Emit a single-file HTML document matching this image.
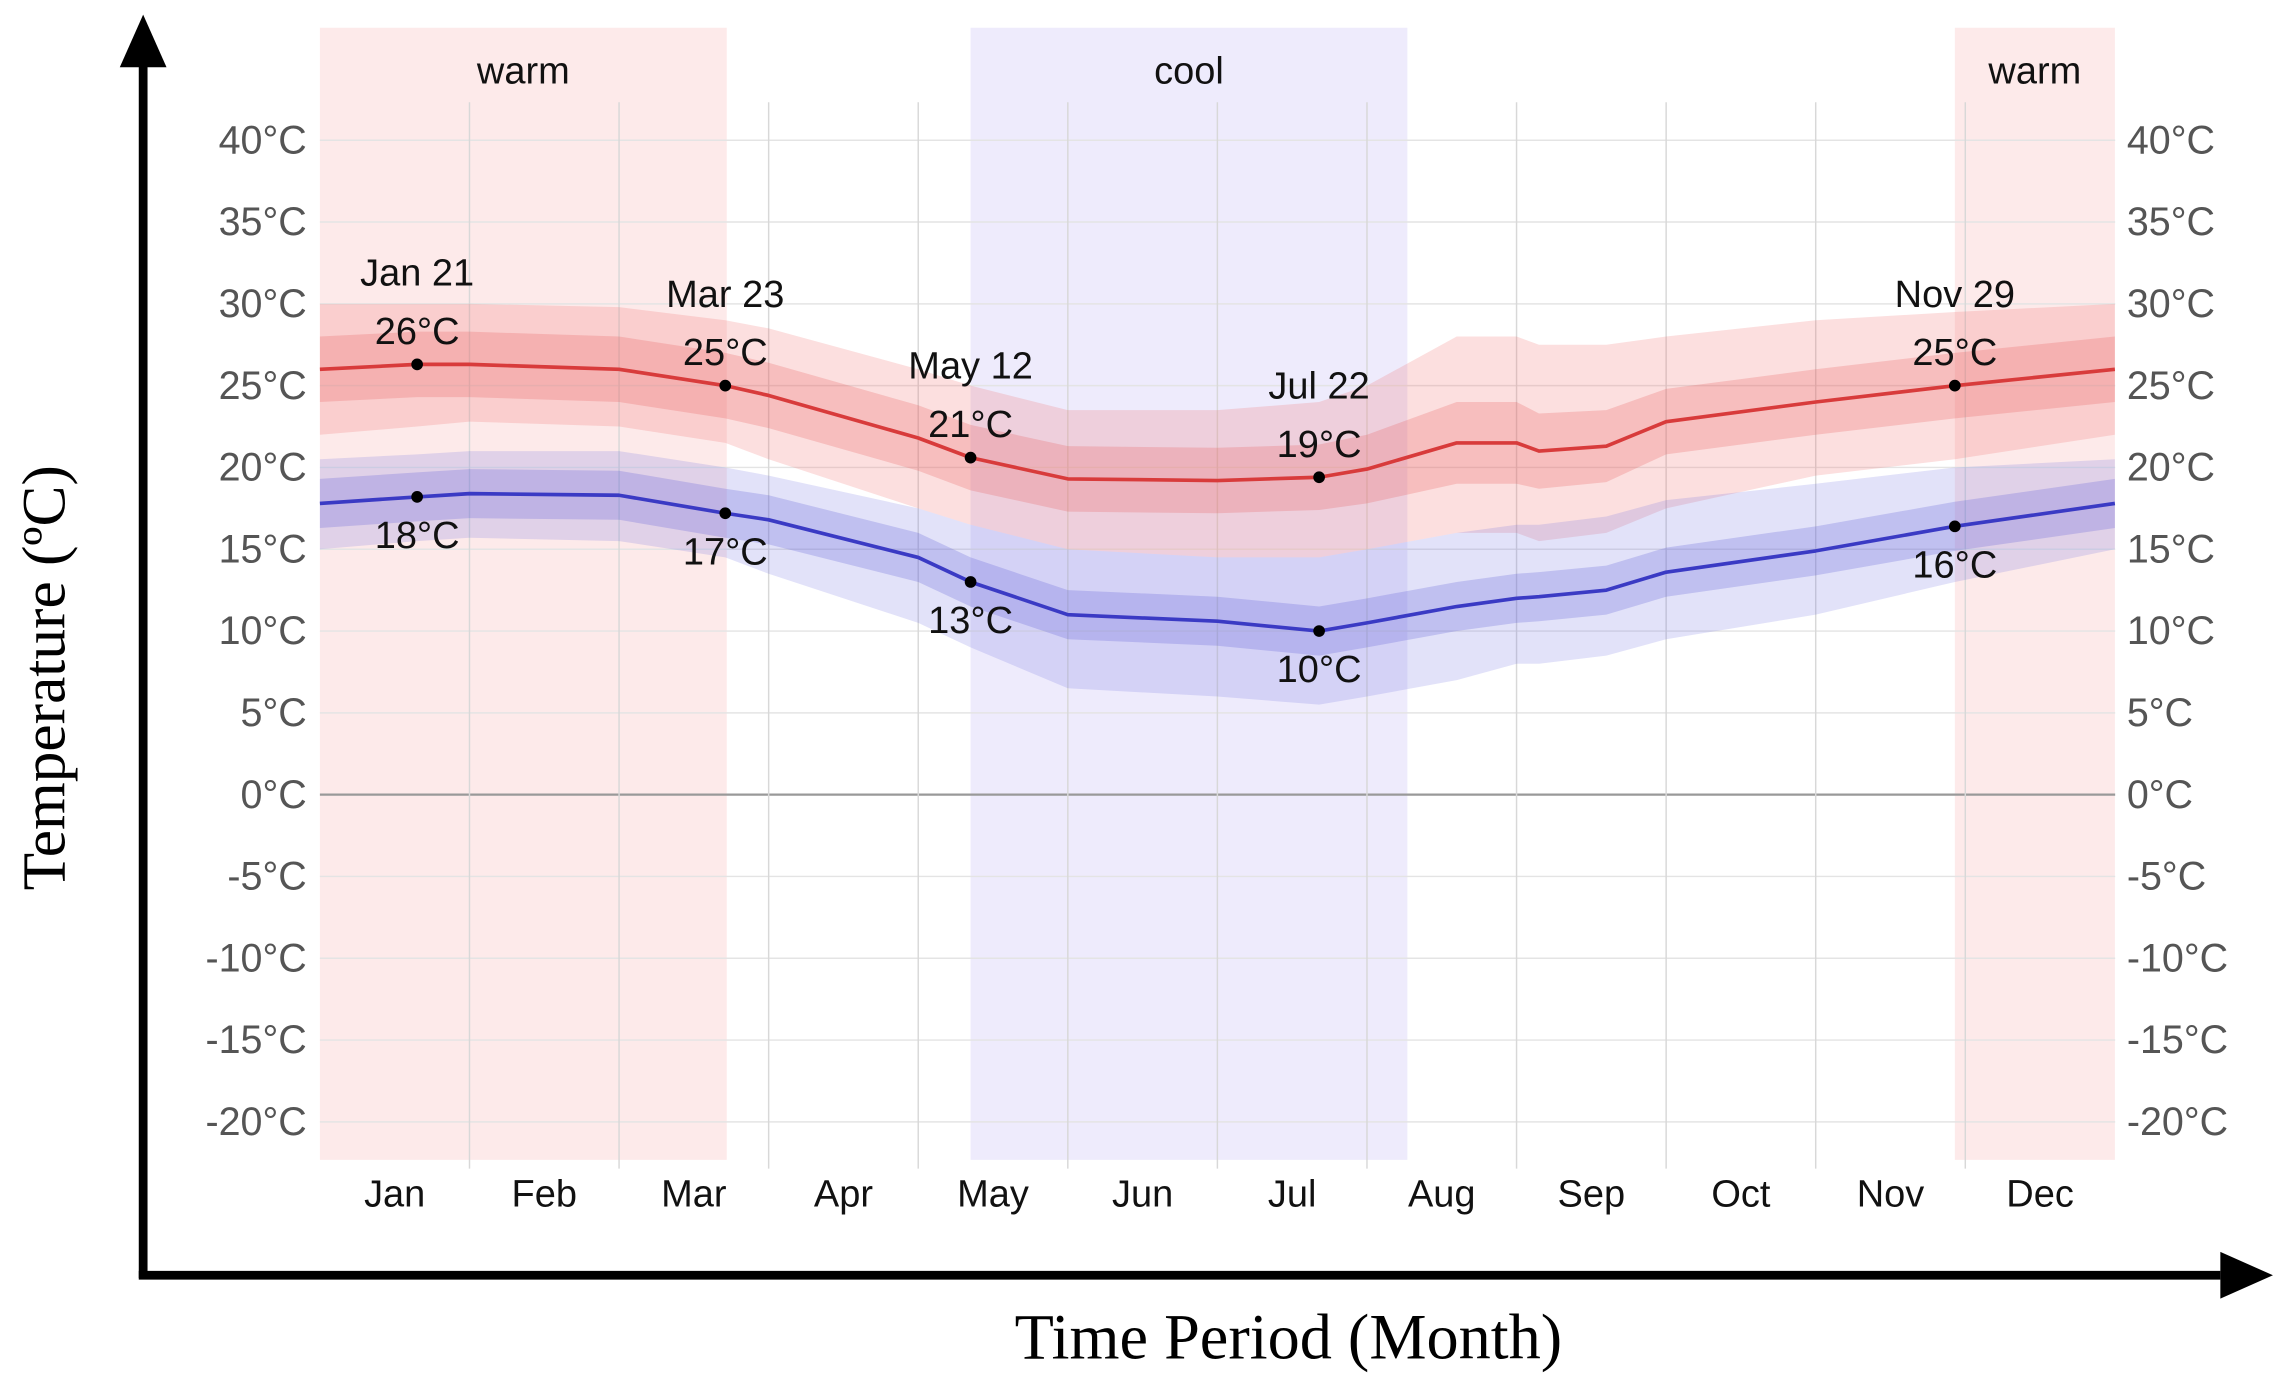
<!DOCTYPE html>
<html><head><meta charset="utf-8"><style>
html,body{margin:0;padding:0;background:#fff;}
svg{display:block;}
.t{font-family:"Liberation Sans",sans-serif;font-size:27px;fill:#555;}
.a{font-family:"Liberation Sans",sans-serif;font-size:26px;fill:#111;text-anchor:middle;}
</style></head><body>
<svg id="chart" width="2289" height="1381" viewBox="0 0 1567 945.4" preserveAspectRatio="none" xmlns="http://www.w3.org/2000/svg">
<g id="bg"></g><g id="grid"></g><g id="bands"></g><g id="lines"></g><g id="labels"></g>
<line x1="98" y1="40" x2="98" y2="875" stroke="#000" stroke-width="6"/>
<polygon points="98,10 82,46 114,46" fill="#000"/>
<line x1="95" y1="873" x2="1520" y2="873" stroke="#000" stroke-width="6"/>
<polygon points="1556,873 1520,857 1520,889" fill="#000"/>
<text x="882" y="930" text-anchor="middle" font-family="Liberation Serif,serif" font-size="44" fill="#000">Time Period (Month)</text>
<text transform="translate(44,464) rotate(-90)" text-anchor="middle" font-family="Liberation Serif,serif" font-size="42" fill="#000">Temperature (ºC)</text>
</svg>
<script>
const months=["Jan","Feb","Mar","Apr","May","Jun","Jul","Aug","Sep","Oct","Nov","Dec"];
const yTicks=[40,35,30,25,20,15,10,5,0,-5,-10,-15,-20];
const seasons=[{label:"warm",from:0,to:2.72,c:"#fdeaea"},{label:"cool",from:4.35,to:7.27,c:"#eeebfc"},{label:"warm",from:10.93,to:12,c:"#fdeaea"}];
const xs=[0,0.65,1,2,2.71,3,4,4.35,5,6,6.68,7,7.6,8,8.15,8.6,9,10,10.93,12];
const redMean=[26,26.3,26.3,26,25,24.4,21.8,20.6,19.3,19.2,19.4,19.9,21.5,21.5,21,21.3,22.8,24,25,26];
const redOutHi=[30,30,30,29.8,29,28.5,26,25,23.5,23.5,24,25,28,28,27.5,27.5,28,29,29.5,30];
const redOutLo=[22,22.5,22.8,22.5,21.5,20.5,17.5,16.5,15,14.5,14.5,15,16,16,15.5,16,17.5,19.5,20.5,22];
const redInHi=[28,28.3,28.3,28,27,26.4,23.8,22.6,21.3,21.2,21.4,22,24,24,23.3,23.5,24.8,26,27,28];
const redInLo=[24,24.3,24.3,24,23,22.4,19.8,18.6,17.3,17.2,17.4,17.8,19,19,18.7,19.1,20.8,22,23,24];
const blueMean=[17.8,18.2,18.4,18.3,17.2,16.8,14.5,13,11,10.6,10,10.5,11.5,12,12.1,12.5,13.6,14.9,16.4,17.8];
const blueOutHi=[20.5,20.8,21,21,20,19.5,17.5,16.5,15,14.5,14.5,15,16,16.5,16.5,17,18,19,20,20.5];
const blueOutLo=[15,15.5,15.7,15.5,14.5,13.5,10.5,9,6.5,6,5.5,6,7,8,8,8.5,9.5,11,13,15];
const blueInHi=[19.3,19.7,19.9,19.8,18.7,18.3,16,14.5,12.5,12.1,11.5,12,13,13.5,13.6,14,15.1,16.4,17.9,19.3];
const blueInLo=[16.3,16.7,16.9,16.8,15.7,15.3,13,11.5,9.5,9.1,8.5,9,10,10.5,10.6,11,12.1,13.4,14.9,16.3];
const markX=[0.65,2.71,4.35,6.68,10.93];
const markRed=[26.3,25,20.6,19.4,25];
const markBlue=[18.2,17.2,13,10,16.4];
const markDate=["Jan 21","Mar 23","May 12","Jul 22","Nov 29"];
const NS="http://www.w3.org/2000/svg";
const X=m=>219+m*102.4, Y=v=>544-v*11.2;
function mk(tag,attrs,parent){const e=document.createElementNS(NS,tag);for(const k in attrs)e.setAttribute(k,attrs[k]);document.getElementById(parent).appendChild(e);return e;}
seasons.forEach(s=>{
 const r=mk('rect',{x:X(s.from),y:19,width:X(s.to)-X(s.from),height:775,fill:s.c},'bg');
 
 
 const t=mk('text',{x:(X(s.from)+X(s.to))/2,y:57,class:'a'},'bg');t.textContent=s.label;
 
 
});
yTicks.forEach(v=>{
 const l=mk('line',{x1:219,x2:1448,y1:Y(v),y2:Y(v),stroke:v===0?'#999':'#e4e4e4','stroke-width':v===0?1.5:1},'grid');
 
 
 const a=mk('text',{x:210,y:Y(v)+9,'text-anchor':'end',class:'t'},'labels');a.textContent=v+'°C';
 
 
 const b=mk('text',{x:1456,y:Y(v)+9,class:'t'},'labels');b.textContent=v+'°C';
 
 
});
months.forEach((m,i)=>{
 if(i>0){const l=mk('line',{x1:X(i),x2:X(i),y1:70,y2:800,stroke:'#d8d8d8','stroke-width':1},'grid');
 
 }
 const t=mk('text',{x:X(i+0.5),y:826,class:'a'},'labels');t.textContent=m;
 
 
});
function band(hi,lo,fill,name){
 let d='M'+xs.map((x,i)=>X(x)+','+Y(hi[i])).join('L');
 d+='L'+xs.map((x,i)=>[X(x),Y(lo[i])]).reverse().map(p=>p.join(',')).join('L')+'Z';
 const p=mk('path',{d:d,fill:fill},'bands');
 
 
}
band(redOutHi,redOutLo,'rgba(240,110,110,0.22)','red-outer-band');
band(redInHi,redInLo,'rgba(230,90,90,0.25)','red-inner-band');
band(blueOutHi,blueOutLo,'rgba(110,110,225,0.2)','blue-outer-band');
band(blueInHi,blueInLo,'rgba(90,90,215,0.25)','blue-inner-band');
function line(v,c,name){
 const p=mk('path',{d:'M'+xs.map((x,i)=>X(x)+','+Y(v[i])).join('L'),fill:'none',stroke:c,'stroke-width':2.5,'stroke-linejoin':'round'},'lines');
 
 
}
line(redMean,'#d83b3b','high-temp-line');
line(blueMean,'#3a3ac4','low-temp-line');
markX.forEach((mx,i)=>{
 [markRed[i],markBlue[i]].forEach((v,j)=>{
  const c=mk('circle',{cx:X(mx),cy:Y(v),r:4,fill:'#000'},'lines');
  
  
 });
 const d=mk('text',{x:X(mx),y:Y(markRed[i])-54,class:'a'},'labels');d.textContent=markDate[i];
 
 
 const h=mk('text',{x:X(mx),y:Y(markRed[i])-14,class:'a'},'labels');h.textContent=Math.round(markRed[i])+'°C';
 
 
 const l=mk('text',{x:X(mx),y:Y(markBlue[i])+35,class:'a'},'labels');l.textContent=Math.round(markBlue[i])+'°C';
 
 
});
</script>
</body></html>
